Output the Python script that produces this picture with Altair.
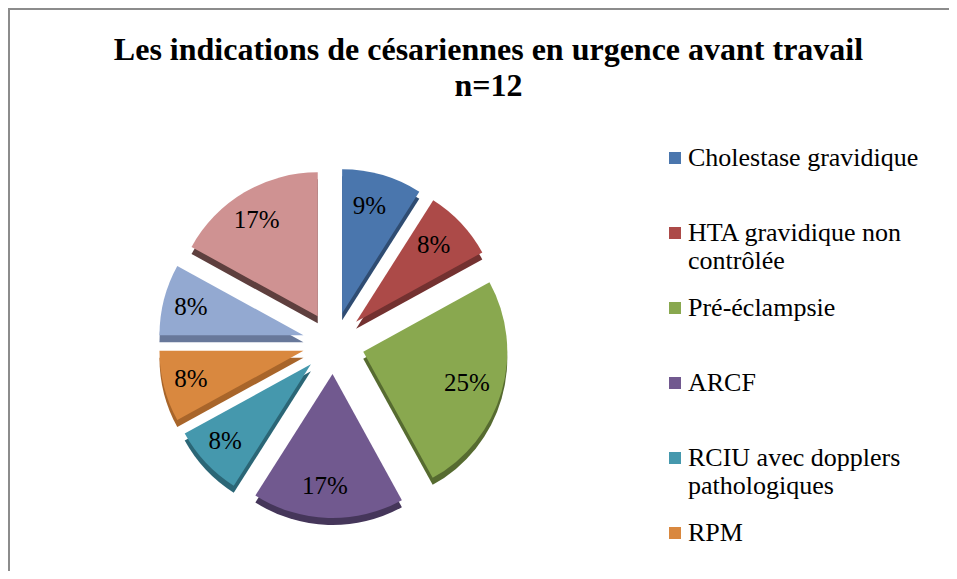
import altair as alt
import pandas as pd

# ---- data ----
names = [
    "Cholestase gravidique",
    "HTA gravidique non|contrôlée",
    "Pré-éclampsie",
    "ARCF",
    "RCIU avec dopplers|pathologiques",
    "RPM",
    "Autre indication 1",
    "Autre indication 2",
]
pct = [9, 8, 25, 17, 8, 8, 8, 17]
legend_shown = names[:6]

top_colors = ["#4a76ad", "#ac4a48", "#89a84f", "#71598f",
              "#4598ad", "#d9883f", "#93a9d1", "#cf9292"]
side_colors = ["#2f4c72", "#733130", "#566b30", "#45365a",
               "#2b6676", "#a8652a", "#68789a", "#5e3f3e"]

W, H = 941, 563
CX, CY = 325.5, 335      # pie centre (view px)
R = 144                  # pie radius
EXPLODE = 31             # explosion distance
DEPTH = 7                # 3-D thickness
LABEL_R = 112

df = pd.DataFrame({"name": names, "pct": pct, "order": list(range(len(names)))})

base = (
    alt.Chart(df)
    .transform_window(cum="sum(pct)", sort=[alt.SortField("order")], frame=[None, 0])
    .transform_calculate(
        t1="datum.cum / 100 * 2 * PI",
        t0="(datum.cum - datum.pct) / 100 * 2 * PI",
    )
    .transform_calculate(mid="(datum.t0 + datum.t1) / 2")
    .transform_calculate(
        cx=f"{CX} + {EXPLODE} * sin(datum.mid)",
        cy=f"{CY} - {EXPLODE} * cos(datum.mid)",
        label="datum.pct + '%'",
    )
    .transform_calculate(
        cyd=f"datum.cy + {DEPTH}",
        lx=f"datum.cx + {LABEL_R} * sin(datum.mid)",
        ly=f"datum.cy - {LABEL_R} * cos(datum.mid)",
    )
)

side = base.mark_arc(radius=R).encode(
    theta=alt.Theta("t0:Q", scale=None),
    theta2="t1:Q",
    x=alt.X("cx:Q", scale=None),
    y=alt.Y("cyd:Q", scale=None),
    color=alt.Color("name:N", scale=alt.Scale(domain=names, range=side_colors), legend=None),
)

top = base.mark_arc(radius=R).encode(
    theta=alt.Theta("t0:Q", scale=None),
    theta2="t1:Q",
    x=alt.X("cx:Q", scale=None),
    y=alt.Y("cy:Q", scale=None),
    color=alt.Color(
        "name:N",
        scale=alt.Scale(domain=names, range=top_colors),
        legend=alt.Legend(
            title=None,
            orient="none",
            legendX=654,
            legendY=137,
            values=legend_shown,
            symbolType="square",
            symbolSize=144,
            symbolStrokeWidth=0,
            symbolOpacity=1,
            labelFont="Liberation Serif",
            labelFontSize=26,
            labelColor="black",
            labelLimit=400,
            labelOffset=0,
            labelBaseline="middle",
            rowPadding=21,
            labelExpr="split(datum.label + (indexof(datum.label, '|') < 0 ? '|' : ''), '|')",
        ),
    ),
)

labels = base.mark_text(font="Liberation Serif", fontSize=25, color="black", dx=-4).encode(
    x=alt.X("lx:Q", scale=None),
    y=alt.Y("ly:Q", scale=None),
    text="label:N",
)

frame_df = pd.DataFrame({"k": [0]})
top_rule = alt.Chart(frame_df).mark_rule(color="#8c8c8c", strokeWidth=2).encode(
    x=alt.value(0), x2=alt.value(W), y=alt.value(1)
)
left_rule = alt.Chart(frame_df).mark_rule(color="#8c8c8c", strokeWidth=2).encode(
    x=alt.value(1), y=alt.value(0), y2=alt.value(H)
)

chart = (
    alt.layer(side, top, labels, top_rule, left_rule)
    .resolve_scale(color="independent")
    .properties(
        width=W,
        height=H,
        padding=0,
        autosize=alt.AutoSizeParams(type="none"),
        background="white",
        title=alt.Title(
            text=["Les indications de césariennes en urgence avant travail", "n=12"],
            font="Liberation Serif",
            fontSize=32,
            fontWeight="bold",
            color="black",
            lineHeight=36,
            anchor="middle",
            frame="group",
            dx=10,
            offset=-96,
        ),
    )
    .configure_view(stroke=None)
)

chart.save("out.html", embed_options={"renderer": "svg", "actions": False})
